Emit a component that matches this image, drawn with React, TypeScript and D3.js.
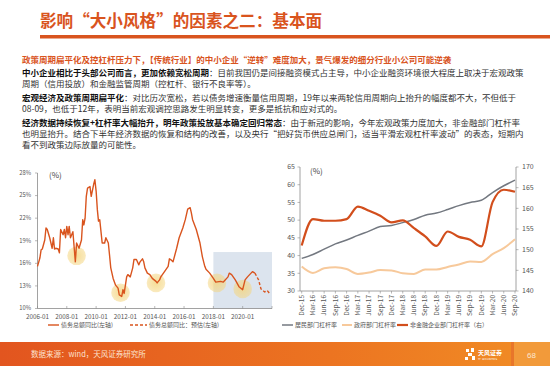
import React from "react";
import * as d3 from "d3";

// 债务总额同比 (%)
const debtMonths = [
  "2006-01", "2006-03", "2006-04", "2006-05", "2006-07", "2006-08", "2006-09", "2006-11",
  "2007-01", "2007-02", "2007-03", "2007-04", "2007-06", "2007-07", "2007-08", "2007-10", "2007-11", "2007-12",
  "2008-01", "2008-02", "2008-03", "2008-04", "2008-06", "2008-08", "2008-09", "2008-11",
  "2009-01", "2009-02", "2009-03", "2009-04", "2009-05", "2009-06", "2009-08", "2009-09", "2009-11", "2009-12",
  "2010-01", "2010-02", "2010-03", "2010-04", "2010-06", "2010-08", "2010-09", "2010-11", "2010-12",
  "2011-01", "2011-03", "2011-05", "2011-07", "2011-08", "2011-10", "2011-11", "2011-12",
  "2012-02", "2012-03", "2012-05", "2012-07", "2012-08", "2012-10", "2012-12",
  "2013-01", "2013-03", "2013-04", "2013-05", "2013-07", "2013-09", "2013-11",
  "2014-02", "2014-03", "2014-05", "2014-06", "2014-09", "2014-12",
  "2015-01", "2015-02", "2015-04", "2015-07", "2015-09", "2015-12",
  "2016-02", "2016-04", "2016-06", "2016-07", "2016-08", "2016-11",
  "2017-02", "2017-04", "2017-06", "2017-07", "2017-10",
  "2018-01", "2018-03", "2018-07", "2018-09",
  "2019-01", "2019-02", "2019-04", "2019-07", "2019-10",
  "2020-01", "2020-03", "2020-05", "2020-09", "2020-11",
];
const debtGrowth = [
  15.6, 16.7, 17.8, 17.9, 19.1, 20.7, 20.5, 19.4,
  18.0, 19.4, 17.9, 18.0, 17.9, 17.4, 20.5, 19.8, 20.5, 19.4,
  20.9, 19.8, 20.9, 19.4, 20.2, 16.2, 18.7, 18.0,
  19.1, 21.8, 21.1, 22.0, 24.9, 26.0, 26.2, 24.9, 26.5, 27.1,
  25.6, 23.1, 21.6, 21.8, 18.7, 18.7, 19.4, 18.7, 17.1,
  15.4, 14.0, 13.1, 12.7, 11.8, 11.6, 12.5, 12.0,
  14.2, 14.5, 14.2, 15.4, 16.5, 16.5, 15.8,
  16.2, 16.6, 16.2, 15.4, 14.7, 14.5, 14.0,
  13.6, 13.4, 13.8, 14.2, 14.9, 15.6,
  16.6, 16.5, 16.2, 18.0, 19.4, 20.7,
  21.8, 23.2, 23.4, 22.7, 21.8, 20.5,
  18.7, 16.9, 15.6, 15.2, 14.7,
  14.0, 13.5, 13.6, 13.5,
  14.2, 14.7, 14.5, 13.8, 12.9,
  12.5, 13.8, 14.2, 14.9, 14.7,
];
// 债务总额同比：预估
const forecastMonths = ["2020-11", "2021-02", "2021-04", "2021-07", "2021-09", "2021-11"];
const forecastGrowth = [14.7, 13.8, 12.6, 12.2, 12.4, 12.0];

const debtTicks = [10, 13, 16, 19, 22, 25, 28];
const yearTicks = ["2006-01", "2008-01", "2010-01", "2012-01", "2014-01", "2016-01", "2018-01", "2020-01"];
const troughMonths = ["2008-09", "2011-09", "2014-02", "2018-04", "2020-01"];
const troughValues = [17.0, 12.1, 13.4, 13.4, 12.6];

// 杠杆率 (%)
const quarters = [
  "Dec-15", "Mar-16", "Jun-16", "Sep-16", "Dec-16", "Mar-17", "Jun-17", "Sep-17", "Dec-17", "Mar-18",
  "Jun-18", "Sep-18", "Dec-18", "Mar-19", "Jun-19", "Sep-19", "Dec-19", "Mar-20", "Jun-20", "Sep-20",
];
const household = [39.2, 40.3, 41.8, 43.3, 44.4, 45.7, 46.9, 48.2, 48.5, 49.3, 50.2, 51.4, 52.0, 53.0, 54.1, 55.0, 55.6, 57.8, 59.7, 61.3];
const government = [36.9, 35.1, 36.4, 36.7, 36.2, 34.8, 35.2, 35.9, 35.8, 35.0, 34.8, 36.1, 36.1, 36.8, 37.5, 38.3, 38.2, 40.4, 42.1, 44.6];
const corporate = [151.0, 157.4, 157.0, 157.0, 157.4, 160.4, 159.4, 158.2, 156.6, 157.1, 155.2, 153.2, 150.9, 154.4, 153.1, 152.4, 150.8, 161.5, 164.5, 164.0];
const levLeftTicks = [30, 35, 40, 45, 50, 55, 60, 65];
const levRightTicks = [140, 145, 150, 155, 160, 165, 170];

const ORANGE = "#D9541E";
const CJK = "'Noto Sans CJK SC', 'Noto Sans', sans-serif";
const parse = d3.timeParse("%Y-%m");

const App: React.FC = () => {
  // left chart
  const x1 = d3.scaleTime().domain([parse("2006-01")!, parse("2022-01")!]).range([37.5, 272]);
  const y1 = d3.scaleLinear().domain([10, 28]).range([308.5, 173]);
  const line1 = d3
    .line<[string, number]>()
    .x((d) => x1(parse(d[0])!))
    .y((d) => y1(d[1]));
  const debtPath = line1(debtMonths.map((m, i) => [m, debtGrowth[i]])) || "";
  const fcPath = line1(forecastMonths.map((m, i) => [m, forecastGrowth[i]])) || "";

  // right chart
  const x2 = d3.scalePoint<string>().domain(quarters).range([301.7, 515]);
  const y2 = d3.scaleLinear().domain([30, 65]).range([291, 167]);
  const y2r = d3.scaleLinear().domain([140, 170]).range([291, 167]);
  const mk = (vals: number[], ys: d3.ScaleLinear<number, number>) =>
    d3
      .line<number>()
      .x((_, i) => x2(quarters[i])!)
      .y((v) => ys(v))
      .curve(d3.curveMonotoneX)(vals) || "";

  const axisCol = "#8a8a8a";
  const tickTxt = "#555";

  return (
    <svg
      width={550}
      height={366}
      style={{ position: "absolute", left: 0, top: 0, background: "#fff" }}
      fontFamily={CJK}
    >
      <defs>
        <linearGradient id="foot" x1="0" x2="1" y1="0" y2="0">
          <stop offset="0" stopColor="#E2551F" />
          <stop offset="0.6" stopColor="#EC7421" />
          <stop offset="1" stopColor="#F18E25" />
        </linearGradient>
        <radialGradient id="glow">
          <stop offset="0" stopColor="#F4D57E" stopOpacity={0.8} />
          <stop offset="1" stopColor="#F4D57E" stopOpacity={0.5} />
        </radialGradient>
      </defs>

      {/* title */}
      <text x={40} y={26.5} fontSize={16.6} fontWeight={700} fill={ORANGE}>
        影响“大小风格”的因素之二：基本面
      </text>
      <rect x={40} y={35} width={510} height={3.5} fill={ORANGE} />

      {/* body text */}
      <g fontSize={8.5}>
        <text x={22} y={63} fill={ORANGE} fontWeight={700}>
          政策周期扁平化及控杠杆压力下，【传统行业】的中小企业“逆转”难度加大，景气爆发的细分行业小公司可能逆袭
        </text>
        <text x={22} y={75.5} fill="#333">
          <tspan fontWeight={700} fill="#111">中小企业相比于头部公司而言，更加依赖宽松周期</tspan>
          ：目前我国仍是间接融资模式占主导，中小企业融资环境很大程度上取决于宏观政策
        </text>
        <text x={22} y={86.5} fill="#333">周期（信用投放）和金融监管周期（控杠杆、银行不良率等）。</text>
        <text x={22} y={100.5} fill="#333">
          <tspan fontWeight={700} fill="#111">宏观经济及政策周期扁平化</tspan>
          ：对比历次宽松，若以债务增速衡量信用周期，19年以来两轮信用周期向上抬升的幅度都不大，不但低于
        </text>
        <text x={22} y={111.5} fill="#333">08-09，也低于12年，表明当前宏观调控思路发生明显转变，更多是抵抗和应对式的。</text>
        <text x={22} y={125.5} fill="#333">
          <tspan fontWeight={700} fill="#111">经济数据持续恢复+杠杆率大幅抬升，明年政策投放基本确定回归常态</tspan>
          ：由于新冠的影响，今年宏观政策力度加大，非金融部门杠杆率
        </text>
        <text x={22} y={137} fill="#333">
          也明显抬升。结合下半年经济数据的恢复和结构的改善，以及央行“把好货币供应总闸门，适当平滑宏观杠杆率波动”的表态，短期内
        </text>
        <text x={22} y={148} fill="#333">看不到政策边际放量的可能性。</text>
      </g>

      {/* left chart */}
      <rect
        x={x1(parse("2018-01")!)}
        y={y1(17.5)}
        width={272 - x1(parse("2018-01")!)}
        height={y1(10) - y1(17.5)}
        fill="#DCE4EE"
      />
      {troughMonths.map((m, i) => (
        <circle key={m} cx={x1(parse(m)!)} cy={y1(troughValues[i])} r={9.3} fill="url(#glow)" />
      ))}
      <line x1={37.5} x2={37.5} y1={173} y2={308.5} stroke={axisCol} strokeWidth={0.8} />
      <line x1={37.5} x2={272} y1={308.5} y2={308.5} stroke={axisCol} strokeWidth={0.8} />
      {debtTicks.map((t) => (
        <g key={t}>
          <line x1={35} x2={37.5} y1={y1(t)} y2={y1(t)} stroke={axisCol} strokeWidth={0.6} />
          <text x={31} y={y1(t) + 1.8} fontSize={5.8} textAnchor="end" fill={tickTxt}>
            {t}%
          </text>
        </g>
      ))}
      {[...yearTicks, "2022-01"].map((m) => (
        <line key={m} x1={x1(parse(m)!)} x2={x1(parse(m)!)} y1={308.5} y2={306} stroke={axisCol} strokeWidth={0.6} />
      ))}
      {yearTicks.map((m) => (
        <text key={m} x={x1(parse(m)!)} y={318.5} fontSize={6.3} textAnchor="middle" fill={tickTxt}>
          {m}
        </text>
      ))}
      <text x={49} y={178} fontSize={8} fill="#444">(%)</text>
      <path d={debtPath} fill="none" stroke={ORANGE} strokeWidth={1.4} strokeLinejoin="round" />
      <path d={fcPath} fill="none" stroke={ORANGE} strokeWidth={1.4} strokeDasharray="3,2" />

      <g fontSize={6} fill="#555">
        <line x1={48} x2={59} y1={325} y2={325} stroke={ORANGE} strokeWidth={1.4} />
        <text x={61} y={327}>债务总额同比(左轴)</text>
        <line x1={130} x2={147} y1={325} y2={325} stroke={ORANGE} strokeWidth={1.4} strokeDasharray="3,2" />
        <text x={149} y={327}>债务总额同比：预估(左轴)</text>
      </g>

      {/* right chart */}
      <line x1={300} x2={300} y1={167} y2={291} stroke={axisCol} strokeWidth={0.8} />
      <line x1={516} x2={516} y1={167} y2={291} stroke={axisCol} strokeWidth={0.8} />
      <line x1={300} x2={516} y1={291} y2={291} stroke={axisCol} strokeWidth={0.8} />
      {levLeftTicks.map((t) => (
        <g key={t}>
          <line x1={297.5} x2={300} y1={y2(t)} y2={y2(t)} stroke={axisCol} strokeWidth={0.6} />
          <text x={295} y={y2(t) + 2.3} fontSize={7} textAnchor="end" fill={tickTxt}>
            {t}
          </text>
        </g>
      ))}
      {levRightTicks.map((t) => (
        <g key={t}>
          <line x1={516} x2={518.5} y1={y2r(t)} y2={y2r(t)} stroke={axisCol} strokeWidth={0.6} />
          <text x={522} y={y2r(t) + 2.3} fontSize={7} fill={tickTxt}>
            {t}
          </text>
        </g>
      ))}
      {quarters.map((q) => (
        <g key={q}>
          <line x1={x2(q)!} x2={x2(q)!} y1={291} y2={293.5} stroke={axisCol} strokeWidth={0.6} />
          <text
            transform={`translate(${x2(q)! + 2.3},295) rotate(-90)`}
            fontSize={6.5}
            textAnchor="end"
            fill={tickTxt}
          >
            {q}
          </text>
        </g>
      ))}
      <text x={310} y={174} fontSize={8} fill="#444">(%)</text>
      <path d={mk(government, y2)} fill="none" stroke="#F7C99B" strokeWidth={2} />
      <path d={mk(household, y2)} fill="none" stroke="#737880" strokeWidth={1.5} />
      <path d={mk(corporate, y2r)} fill="none" stroke="#D24E1C" strokeWidth={2.2} />

      <g fontSize={6} fill="#555">
        <line x1={282} x2={293} y1={325} y2={325} stroke="#737880" strokeWidth={1.5} />
        <text x={295} y={327}>居民部门杠杆率</text>
        <line x1={342} x2={352} y1={325} y2={325} stroke="#F7C99B" strokeWidth={2} />
        <text x={354} y={327}>政府部门杠杆率</text>
        <line x1={397} x2={408} y1={325} y2={325} stroke="#D24E1C" strokeWidth={2.2} />
        <text x={410} y={327}>非金融企业部门杠杆率（右）</text>
      </g>

      {/* footer */}
      <rect x={0} y={342} width={550} height={24} fill="url(#foot)" />
      <rect x={511} y={342} width={39} height={24} fill="#F29A3A" />
      <rect x={511} y={342} width={3} height={24} fill="#E8762A" />
      <text x={31} y={357} fontSize={7.5} fill="#FCE3D0">
        数据来源：wind，天风证券研究所
      </text>
      <g fill="#fff">
        <rect x={466} y={349} width={3} height={3} />
        <rect x={471} y={348} width={3} height={4} />
        <rect x={468} y={353} width={4} height={3} />
        <rect x={465} y={357} width={3} height={3} />
        <rect x={472} y={356} width={3} height={4} />
        <text x={478} y={355} fontSize={6} fontWeight={700}>天风证券</text>
        <text x={478} y={359.5} fontSize={2.6} fontFamily="DejaVu Sans">TF SECURITIES</text>
      </g>
      <text x={527} y={357.5} fontSize={8} fill="#FDE6CF" fontFamily="'Liberation Sans', Arial">
        68
      </text>
    </svg>
  );
};

export default App;
